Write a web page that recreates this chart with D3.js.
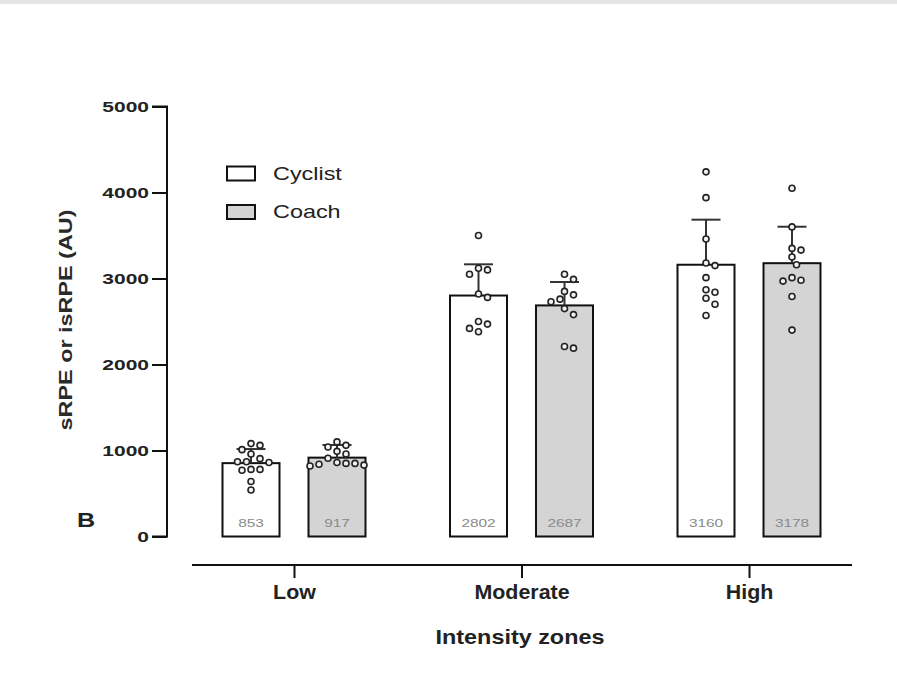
<!DOCTYPE html>
<html>
<head>
<meta charset="utf-8">
<script src="https://cdn.jsdelivr.net/npm/d3@7"></script>
<style>
  body { margin: 0; background: #fff; }
  svg { display: block; font-family: "Liberation Sans", Arial, sans-serif; }
</style>
</head>
<body>
<svg id="chart" width="897" height="677"></svg>
<script>
// data
var zones = ["Low", "Moderate", "High"];
var series = ["Cyclist", "Coach"];

var cyclistMean = [853, 2802, 3160];
var coachMean = [917, 2687, 3178];
var cyclistSD = [164, 363, 524];
var coachSD = [147, 272, 424];

// individual subjects per zone
var cyclistPoints = [
	[1060, 1080, 1010, 960, 905, 870, 870, 860, 780, 780, 770, 640, 540],
	[3500, 3120, 3100, 3050, 2820, 2780, 2500, 2470, 2420, 2380],
	[4240, 3940, 3460, 3180, 3150, 3010, 2870, 2840, 2770, 2700, 2570]
];
var coachPoints = [
	[1100, 1060, 1040, 990, 960, 910, 860, 850, 850, 840, 830, 820],
	[3050, 2990, 2850, 2810, 2760, 2730, 2650, 2580, 2210, 2190],
	[4050, 3600, 3350, 3330, 3250, 3160, 3010, 2980, 2970, 2790, 2400]
];

var yTicks = [0, 1000, 2000, 3000, 4000, 5000];

var fills = {Cyclist: "#ffffff", Coach: "#d4d4d4"};

var svg = d3.select("#chart");

// faint strip along the top edge of the scan
svg.append("rect").attr("x", 0).attr("y", 0).attr("width", 897).attr("height", 4).attr("fill", "#e4e4e4");

var yScale = d3.scaleLinear().domain([0, 5000]).range([536.5, 106.5]);
var xScale = d3.scalePoint().domain(zones).range([294, 749]);
var xInner = d3.scalePoint().domain(series).range([-43, 43]);
var barW = 57;

// build a flat table for the bars
var bars = [];
zones.forEach(function(z, i) {
	bars.push({zone: z, s: "Cyclist", mean: cyclistMean[i], sd: cyclistSD[i], pts: cyclistPoints[i]});
	bars.push({zone: z, s: "Coach", mean: coachMean[i], sd: coachSD[i], pts: coachPoints[i]});
});
bars.forEach(function(d) { d.cx = xScale(d.zone) + xInner(d.s); });

// Y axis
var yAxis = d3.axisLeft(yScale).tickValues(yTicks).tickSize(15).tickPadding(0).tickFormat(d3.format("d"));
var yg = svg.append("g").attr("transform", "translate(167,0)").call(yAxis);
yg.select(".domain").attr("stroke", "#111").attr("stroke-width", 2).attr("d", "M-15," + yScale(5000) + "H0V" + yScale(0) + "H-15");
yg.selectAll(".tick line").attr("stroke", "#111").attr("stroke-width", 2);
yg.selectAll(".tick text")
	.attr("x", null)
	.attr("transform", "translate(-18,0) scale(1.4,1)")
	.attr("font-size", 15).attr("font-weight", "bold").attr("fill", "#222")
	.attr("font-family", "Liberation Sans, Arial, sans-serif");

// X axis
var xAxis = d3.axisBottom(xScale).tickSize(13).tickPadding(0);
var xg = svg.append("g").attr("transform", "translate(0,565)").call(xAxis);
xg.select(".domain").remove();
xg.append("line").attr("x1", 192).attr("x2", 852).attr("y1", 0).attr("y2", 0).attr("stroke", "#111").attr("stroke-width", 2);
xg.selectAll(".tick line").attr("stroke", "#111").attr("stroke-width", 2);
xg.selectAll(".tick text")
	.attr("y", null).attr("dy", null)
	.attr("transform", "translate(0,34) scale(1.07,1)")
	.attr("font-size", 20).attr("font-weight", "bold").attr("fill", "#222")
	.attr("font-family", "Liberation Sans, Arial, sans-serif");

// axis titles
svg.append("text")
	.attr("transform", "translate(520,644) scale(1.17,1)")
	.attr("text-anchor", "middle").attr("font-size", 20).attr("font-weight", "bold").attr("fill", "#222")
	.text("Intensity zones");

svg.append("text")
	.attr("transform", "translate(72,320) rotate(-90) scale(1.3,1)")
	.attr("text-anchor", "middle").attr("font-size", 18).attr("font-weight", "bold").attr("fill", "#2a2a2a")
	.text("sRPE or isRPE (AU)");

svg.append("text")
	.attr("transform", "translate(77,527) scale(1.2,1)")
	.attr("font-size", 21).attr("font-weight", "bold").attr("fill", "#222")
	.text("B");

// bars
var barG = svg.append("g");
barG.selectAll("rect").data(bars).enter().append("rect")
	.attr("x", d => d.cx - barW / 2)
	.attr("y", d => yScale(d.mean))
	.attr("width", barW)
	.attr("height", d => yScale(0) - yScale(d.mean))
	.attr("fill", d => fills[d.s])
	.attr("stroke", "#111").attr("stroke-width", 2);

// mean labels inside bars
barG.selectAll("text").data(bars).enter().append("text")
	.attr("transform", d => "translate(" + d.cx + ",527) scale(1.4,1)")
	.attr("text-anchor", "middle").attr("font-size", 11).attr("fill", "#8a8a8a")
	.text(d => d.mean);

// error bars (upper SD only)
var errG = svg.append("g").attr("stroke", "#333").attr("stroke-width", 2);
errG.selectAll("line.stem").data(bars).enter().append("line").attr("class", "stem")
	.attr("x1", d => d.cx).attr("x2", d => d.cx)
	.attr("y1", d => yScale(d.mean)).attr("y2", d => yScale(d.mean + d.sd));
errG.selectAll("line.cap").data(bars).enter().append("line").attr("class", "cap")
	.attr("x1", d => d.cx - 14.5).attr("x2", d => d.cx + 14.5)
	.attr("y1", d => yScale(d.mean + d.sd)).attr("y2", d => yScale(d.mean + d.sd));

// scatter the subjects like a swarm so they don't overlap
function swarm(vals, cx) {
	var placed = [];
	vals.slice().sort((a, b) => b - a).forEach(function(v) {
		var py = yScale(v), off = 0;
		for (var k = 0; k < 40; k++) {
			var cand = k === 0 ? 0 : (k % 2 ? 1 : -1) * Math.ceil(k / 2) * 4.5;
			if (placed.every(p => Math.hypot(p.x - (cx + cand), p.y - py) >= 8.5)) { off = cand; break; }
		}
		placed.push({x: cx + off, y: py});
	});
	return placed;
}

var ptG = svg.append("g");
bars.forEach(function(d) {
	ptG.selectAll(null).data(swarm(d.pts, d.cx)).enter().append("circle")
		.attr("cx", p => p.x).attr("cy", p => p.y).attr("r", 3)
		.attr("fill", "#f2f2f2").attr("stroke", "#222").attr("stroke-width", 1.6);
});

// legend
var legend = svg.append("g");
series.forEach(function(s, i) {
	var ly = 166.5 + i * 38.5;
	legend.append("rect").attr("x", 227).attr("y", ly).attr("width", 28).attr("height", 14)
		.attr("fill", fills[s]).attr("stroke", "#111").attr("stroke-width", 2);
	legend.append("text")
		.attr("transform", "translate(273," + (ly + 13) + ") scale(1.3,1)")
		.attr("font-size", 18).attr("fill", "#222")
		.text(s);
});
</script>
</body>
</html>
